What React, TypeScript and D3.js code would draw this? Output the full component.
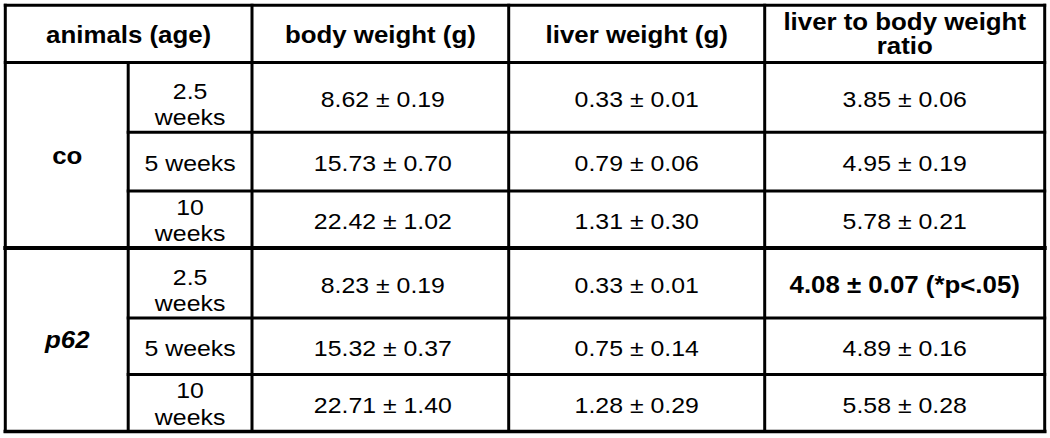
import React from "react";
import * as d3 from "d3";

// ---- data ----
const headerLines: string[][] = [
  ["animals (age)"],
  ["body weight (g)"],
  ["liver weight (g)"],
  ["liver to body weight", "ratio"],
];
const groups = ["co", "p62"];
const ageLines: string[][] = [["2.5", "weeks"], ["5 weeks"], ["10", "weeks"]];
const bodyMean = [8.62, 15.73, 22.42, 8.23, 15.32, 22.71];
const bodySem = [0.19, 0.7, 1.02, 0.19, 0.37, 1.4];
const liverMean = [0.33, 0.79, 1.31, 0.33, 0.75, 1.28];
const liverSem = [0.01, 0.06, 0.3, 0.01, 0.14, 0.29];
const ratioMean = [3.85, 4.95, 5.78, 4.08, 4.89, 5.58];
const ratioSem = [0.06, 0.19, 0.21, 0.07, 0.16, 0.28];
const ratioNote = ["", "", "", "(*p<.05)", "", ""];

// ---- layout ----
const colEdges = [5.3, 128.2, 252, 508.7, 764.7, 1044.7];
const rowEdges = [5.3, 62.5, 132.2, 191, 248, 318, 374.5, 431.5];
const FONT = "'Liberation Sans', Arial, Helvetica, sans-serif";
const BODY_SIZE = 22;
const BODY_SX = 1.13;
const HEAD_SIZE = 23.5;
const HEAD_SX = 1.1;

const fmt = d3.format(".2f");

export default function App() {
  const colX = d3.scaleOrdinal<number, number>().domain(d3.range(colEdges.length)).range(colEdges);
  const rowY = d3.scaleOrdinal<number, number>().domain(d3.range(rowEdges.length)).range(rowEdges);
  const colMid = (i: number) => (colX(i) + colX(i + 1)) / 2;
  const rowMid = (r: number) => (rowY(r) + rowY(r + 1)) / 2;

  const texts: React.ReactNode[] = [];
  const T = (key: string, x: number, y: number, s: string, bold = false, italic = false, head = false) => {
    const sx = head ? HEAD_SX : BODY_SX;
    texts.push(
      <text
        key={key}
        transform={`translate(${x},${y}) scale(${sx},1)`}
        textAnchor="middle"
        fontFamily={FONT}
        fontSize={head ? HEAD_SIZE : BODY_SIZE}
        fontWeight={bold ? "bold" : "normal"}
        fontStyle={italic ? "italic" : "normal"}
        fill="#000"
      >
        {s}
      </text>
    );
  };

  // header
  headerLines.forEach((lines, i) => {
    const x = i === 0 ? (colX(0) + colX(2)) / 2 : colMid(i + 1);
    if (lines.length === 1) {
      T(`h${i}`, x, rowMid(0) + 9.3, lines[0], true, false, true);
    } else {
      T(`h${i}a`, x, 29.5, lines[0], true, false, true);
      T(`h${i}b`, x, 53.5, lines[1], true, false, true);
    }
  });

  // group labels
  groups.forEach((g, gi) => {
    const y = (rowY(1 + gi * 3) + rowY(4 + gi * 3)) / 2 + 8.3;
    T(`g${gi}`, colMid(0) + 0.5, y, g, true, gi === 1, true);
  });

  // body rows
  for (let k = 0; k < 6; k++) {
    const r = k + 1;
    const lines = ageLines[k % 3];
    if (lines.length === 1) {
      T(`a${k}`, colMid(1), rowMid(r) + 9.5, lines[0]);
    } else {
      const bottom = rowY(r + 1) - 6.8;
      T(`a${k}a`, colMid(1), bottom - 26.6, lines[0]);
      T(`a${k}b`, colMid(1), bottom, lines[1]);
    }
    const yb = rowMid(r) + 9.5;
    T(`b${k}`, colMid(2) + 2.5, yb, `${fmt(bodyMean[k])} ± ${fmt(bodySem[k])}`);
    T(`l${k}`, colMid(3), yb, `${fmt(liverMean[k])} ± ${fmt(liverSem[k])}`);
    const note = ratioNote[k];
    T(
      `r${k}`,
      colMid(4),
      yb,
      note ? `${fmt(ratioMean[k])} ± ${fmt(ratioSem[k])} ${note}` : `${fmt(ratioMean[k])} ± ${fmt(ratioSem[k])}`,
      !!note,
      false,
      !!note
    );
  }

  // grid lines
  const lines: React.ReactNode[] = [];
  const L = (key: string, x1: number, y1: number, x2: number, y2: number, w = 3) =>
    lines.push(<line key={key} x1={x1} y1={y1} x2={x2} y2={y2} stroke="#000" strokeWidth={w} strokeLinecap="square" />);
  const nR = rowEdges.length - 1;
  const nC = colEdges.length - 1;
  // horizontal
  L("top", colX(0), rowY(0), colX(nC), rowY(0));
  L("hdr", colX(0), rowY(1), colX(nC), rowY(1));
  L("sep", colX(0), rowY(4), colX(nC), rowY(4), 4);
  L("bot", colX(0), rowY(nR), colX(nC), rowY(nR), 3.5);
  [2, 3, 5, 6].forEach((r) => L(`r${r}`, colX(1), rowY(r), colX(nC), rowY(r)));
  // vertical
  L("left", colX(0), rowY(0), colX(0), rowY(nR));
  L("right", colX(nC), rowY(0), colX(nC), rowY(nR));
  L("c1", colX(1), rowY(1), colX(1), rowY(nR));
  [2, 3, 4].forEach((c) => L(`c${c}`, colX(c), rowY(0), colX(c), rowY(nR)));

  return (
    <svg
      width={1050}
      height={438}
      style={{ position: "absolute", left: 0, top: 0, background: "#fff" }}
    >
      <rect x={0} y={0} width={1050} height={438} fill="#fff" />
      {lines}
      {texts}
    </svg>
  );
}
